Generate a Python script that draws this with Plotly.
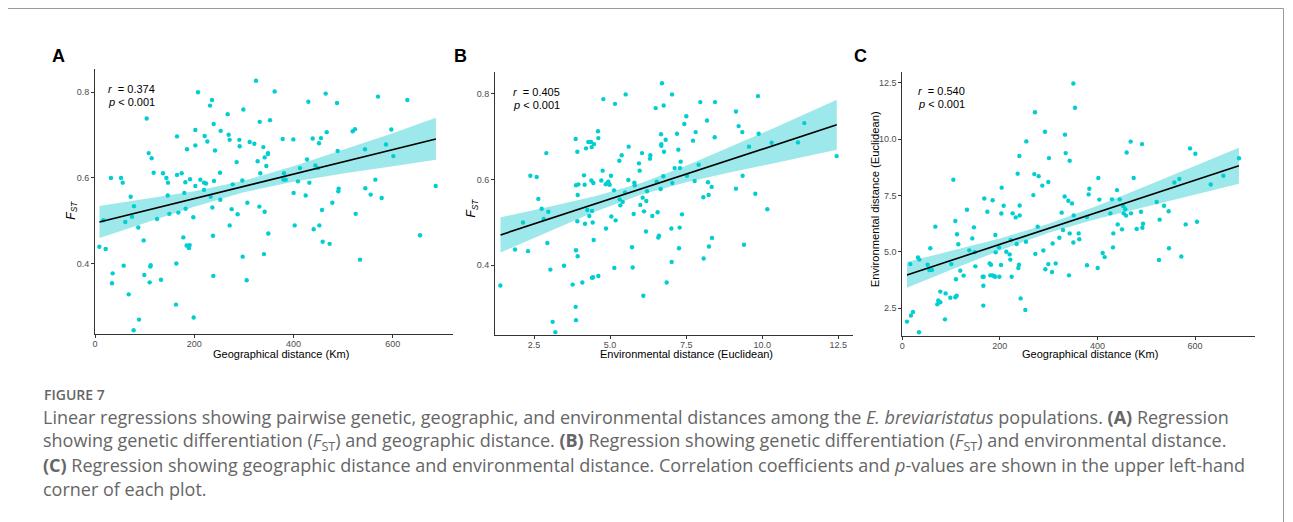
import plotly.graph_objects as go

# ---------------- data ----------------
# Panel A: geographic distance (Km) vs FST
a_x = [8.7, 16.8, 21.5, 32.2, 35.6, 34.3, 52.4, 55.8, 57.8, 61.1, 67.9, 71.9, 74.6, 78.6, 77.9, 87.3, 88.7, 98.1, 99.4, 104.1,
       108.2, 110.2, 111.5, 112.2, 114.2, 118.2, 125.0, 133.0, 137.0, 143.8, 146.5, 147.1, 149.8, 163.2, 163.9, 165.3, 165.3, 168.0, 174.7, 178.0,
       180.0, 182.1, 182.7, 185.4, 184.7, 188.1, 189.4, 190.8, 191.5, 198.2, 198.9, 202.2, 202.2, 202.2, 207.6, 212.3, 219.7, 219.7, 221.0, 223.7,
       226.4, 231.8, 233.1, 235.8, 236.5, 237.8, 238.5, 239.2, 239.8, 241.9, 251.9, 252.6, 253.3, 267.4, 269.4, 271.4, 271.4, 275.4, 277.5, 285.5,
       287.5, 290.9, 291.6, 296.9, 297.6, 299.0, 305.7, 307.0, 311.7, 321.1, 324.5, 327.8, 331.2, 331.9, 333.2, 339.2, 340.5, 341.9, 341.9, 345.3,
       348.6, 348.6, 349.3, 352.7, 362.1, 378.2, 379.6, 380.9, 384.3, 399.7, 400.3, 402.4, 409.1, 413.1, 424.6, 427.3, 430.0, 432.0, 438.7, 440.7,
       444.1, 449.5, 451.5, 452.1, 455.5, 457.5, 458.8, 464.9, 466.9, 472.9, 478.3, 487.7, 489.0, 490.4, 491.1, 519.3, 524.0, 525.4, 534.1, 544.2,
       544.8, 555.6, 565.0, 570.4, 577.7, 586.5, 597.2, 601.3, 629.5, 655.0, 686.6]
a_y = [0.439, 0.501, 0.434, 0.600, 0.377, 0.354, 0.600, 0.589, 0.395, 0.497, 0.328, 0.556, 0.509, 0.534, 0.244, 0.484, 0.269, 0.454, 0.373, 0.739,
       0.658, 0.356, 0.393, 0.396, 0.646, 0.612, 0.504, 0.362, 0.611, 0.600, 0.559, 0.589, 0.516, 0.304, 0.400, 0.697, 0.607, 0.519, 0.611, 0.461,
       0.565, 0.590, 0.528, 0.667, 0.442, 0.441, 0.436, 0.443, 0.597, 0.508, 0.274, 0.712, 0.581, 0.676, 0.800, 0.596, 0.589, 0.572, 0.698, 0.587,
       0.685, 0.769, 0.556, 0.782, 0.531, 0.465, 0.371, 0.726, 0.593, 0.664, 0.612, 0.549, 0.710, 0.749, 0.701, 0.689, 0.489, 0.527, 0.585, 0.637,
       0.515, 0.689, 0.674, 0.594, 0.416, 0.760, 0.361, 0.542, 0.684, 0.680, 0.827, 0.639, 0.533, 0.731, 0.611, 0.672, 0.422, 0.648, 0.521, 0.628,
       0.658, 0.656, 0.470, 0.735, 0.802, 0.691, 0.596, 0.611, 0.596, 0.690, 0.565, 0.489, 0.592, 0.623, 0.559, 0.643, 0.778, 0.589, 0.692, 0.480,
       0.629, 0.623, 0.681, 0.489, 0.693, 0.525, 0.451, 0.797, 0.707, 0.446, 0.542, 0.775, 0.663, 0.569, 0.575, 0.709, 0.714, 0.516, 0.409, 0.667,
       0.576, 0.561, 0.596, 0.790, 0.553, 0.678, 0.713, 0.651, 0.782, 0.466, 0.581]
a_fit_x = [9, 100, 200, 300, 400, 500, 600, 687]
a_fit_y = [0.497, 0.523, 0.551, 0.580, 0.609, 0.638, 0.666, 0.691]
a_lo = [0.4596, 0.4954, 0.5329, 0.5665, 0.5909, 0.6104, 0.6274, 0.6425]
a_hi = [0.5344, 0.5506, 0.5691, 0.5935, 0.6271, 0.6656, 0.7046, 0.7405]

# Panel B: environmental distance (Euclidean) vs FST
b_x = [1.394, 1.876, 2.139, 2.303, 2.380, 2.588, 2.642, 2.752, 2.818, 2.905, 2.938, 2.971, 3.037, 3.113, 3.201, 3.486, 3.771, 3.869, 3.869, 3.880,
       3.880, 3.880, 3.924, 3.924, 3.935, 3.935, 3.957, 4.088, 4.143, 4.165, 4.176, 4.209, 4.252, 4.285, 4.318, 4.373, 4.384, 4.395, 4.406, 4.406,
       4.428, 4.439, 4.450, 4.461, 4.472, 4.603, 4.614, 4.614, 4.712, 4.756, 4.778, 4.855, 4.866, 4.888, 4.942, 4.953, 4.986, 5.030, 5.041, 5.129,
       5.140, 5.162, 5.183, 5.305, 5.315, 5.337, 5.381, 5.414, 5.490, 5.512, 5.600, 5.611, 5.720, 5.742, 5.775, 5.797, 5.808, 5.950, 5.972, 5.994,
       6.049, 6.071, 6.093, 6.115, 6.180, 6.191, 6.213, 6.312, 6.323, 6.388, 6.498, 6.531, 6.563, 6.585, 6.607, 6.662, 6.673, 6.684, 6.684, 6.706,
       6.750, 6.761, 6.772, 6.827, 6.859, 7.013, 7.024, 7.035, 7.046, 7.122, 7.199, 7.243, 7.265, 7.287, 7.297, 7.319, 7.363, 7.440, 7.505, 7.527,
       7.724, 7.779, 7.812, 7.911, 7.965, 8.064, 8.075, 8.184, 8.217, 8.239, 8.250, 8.338, 8.349, 8.437, 8.448, 9.137, 9.137, 9.225, 9.345, 9.356,
       9.400, 9.565, 9.773, 9.860, 9.882, 10.167, 10.309, 11.175, 11.383, 12.445]
b_y = [0.353, 0.437, 0.500, 0.433, 0.609, 0.606, 0.555, 0.532, 0.508, 0.662, 0.452, 0.525, 0.390, 0.268, 0.244, 0.399, 0.355, 0.695, 0.303, 0.435,
       0.272, 0.587, 0.665, 0.503, 0.564, 0.421, 0.589, 0.360, 0.610, 0.588, 0.497, 0.673, 0.529, 0.688, 0.515, 0.688, 0.598, 0.676, 0.527, 0.371,
       0.500, 0.372, 0.592, 0.459, 0.683, 0.713, 0.697, 0.375, 0.598, 0.621, 0.788, 0.589, 0.486, 0.591, 0.595, 0.591, 0.588, 0.609, 0.514, 0.575,
       0.394, 0.777, 0.505, 0.644, 0.554, 0.540, 0.657, 0.548, 0.570, 0.799, 0.599, 0.677, 0.442, 0.395, 0.520, 0.593, 0.587, 0.638, 0.621, 0.541,
       0.662, 0.558, 0.329, 0.526, 0.479, 0.550, 0.573, 0.649, 0.657, 0.515, 0.767, 0.595, 0.524, 0.465, 0.469, 0.578, 0.706, 0.683, 0.679, 0.825,
       0.608, 0.773, 0.665, 0.693, 0.360, 0.486, 0.408, 0.799, 0.592, 0.627, 0.707, 0.670, 0.440, 0.488, 0.627, 0.642, 0.519, 0.730, 0.748, 0.609,
       0.691, 0.597, 0.711, 0.635, 0.781, 0.559, 0.416, 0.738, 0.594, 0.564, 0.444, 0.583, 0.464, 0.699, 0.781, 0.759, 0.579, 0.725, 0.711, 0.609,
       0.448, 0.677, 0.567, 0.795, 0.707, 0.531, 0.686, 0.687, 0.732, 0.655]
b_fit_x = [1.4, 3.0, 4.5, 6.0, 7.5, 9.0, 10.5, 12.45]
b_fit_y = [0.471, 0.508, 0.543, 0.578, 0.613, 0.648, 0.682, 0.728]
b_lo = [0.4298, 0.4795, 0.5249, 0.5645, 0.5937, 0.6180, 0.6399, 0.6695]
b_hi = [0.5122, 0.5365, 0.5611, 0.5915, 0.6323, 0.6780, 0.7241, 0.7865]

# Panel C: geographic distance (Km) vs environmental distance
c_x = [9.6, 16.4, 17.8, 21.9, 32.1, 34.9, 34.2, 51.9, 55.4, 57.4, 60.8, 67.7, 71.8, 73.8, 77.9, 77.9, 88.8, 87.5, 98.4, 100.5,
       104.6, 108.7, 108.7, 110.0, 111.4, 112.1, 114.8, 118.9, 125.7, 132.6, 137.4, 143.5, 146.9, 148.3, 149.7, 164.7, 166.1, 166.8, 166.1, 168.1,
       174.3, 179.1, 180.4, 181.8, 184.5, 185.2, 188.0, 190.0, 190.7, 191.4, 198.2, 198.9, 202.3, 203.7, 203.0, 207.8, 213.2, 220.1, 221.4, 222.1,
       224.2, 226.2, 232.4, 234.4, 236.5, 237.8, 239.2, 239.9, 240.6, 240.6, 242.6, 252.2, 253.5, 254.2, 268.6, 270.6, 272.0, 272.7, 277.5, 279.5,
       287.0, 289.1, 292.5, 293.2, 299.3, 299.3, 300.7, 306.9, 308.2, 314.4, 321.9, 326.7, 329.4, 333.5, 332.8, 334.9, 340.3, 341.7, 343.1, 343.1,
       347.9, 350.6, 350.6, 351.3, 354.0, 361.5, 362.9, 378.6, 378.6, 382.0, 383.4, 400.5, 401.8, 403.9, 410.7, 414.8, 426.5, 429.9, 431.9, 432.6,
       440.1, 441.5, 445.6, 450.4, 453.1, 453.8, 457.2, 458.6, 459.9, 468.1, 468.8, 474.3, 480.4, 489.3, 491.4, 492.1, 493.4, 521.4, 526.2, 527.6,
       536.5, 546.0, 546.7, 557.7, 567.9, 572.0, 580.9, 589.8, 600.7, 604.1, 632.2, 658.1, 690.2]
c_y = [1.91, 4.46, 2.18, 2.34, 4.75, 4.66, 1.44, 4.43, 4.20, 5.16, 4.20, 6.12, 2.68, 2.85, 3.24, 2.77, 3.16, 2.01, 2.97, 4.46,
       8.20, 6.37, 2.99, 3.79, 3.06, 5.78, 5.34, 4.17, 3.95, 6.87, 5.07, 5.60, 6.09, 4.99, 4.36, 3.90, 3.50, 3.90, 2.62, 7.37,
       6.78, 4.49, 3.96, 4.43, 3.96, 7.29, 3.93, 3.90, 5.75, 4.98, 5.20, 3.90, 4.42, 7.85, 6.70, 7.05, 5.01, 4.89, 4.66, 5.53,
       3.90, 6.71, 6.53, 5.35, 8.47, 4.29, 4.43, 9.25, 6.62, 7.06, 2.94, 2.43, 5.45, 9.90, 7.52, 8.45, 11.19, 4.91, 6.12, 8.36,
       7.94, 5.06, 10.33, 4.23, 4.46, 8.10, 9.16, 4.11, 5.37, 4.49, 5.63, 6.74, 5.97, 10.20, 7.46, 9.38, 7.27, 3.96, 5.82, 9.04,
       7.15, 12.47, 5.42, 6.62, 11.39, 5.82, 5.56, 4.41, 6.55, 7.55, 7.80, 4.29, 8.28, 7.32, 4.95, 4.77, 6.71, 7.33, 5.20, 5.82,
       7.74, 6.22, 7.33, 6.00, 7.03, 6.71, 6.89, 6.61, 9.41, 9.89, 6.71, 8.28, 6.02, 6.78, 9.78, 6.07, 6.25, 7.21, 4.64, 6.43,
       7.05, 6.80, 5.16, 8.08, 8.23, 4.80, 6.22, 9.59, 9.35, 6.34, 7.99, 8.38, 9.15]
c_fit_x = [9.6, 100, 200, 300, 400, 500, 600, 690]
c_fit_y = [3.98, 4.62, 5.33, 6.05, 6.76, 7.47, 8.18, 8.82]
c_lo = [3.407, 4.204, 5.066, 5.849, 6.469, 7.020, 7.553, 8.027]
c_hi = [4.553, 5.036, 5.594, 6.251, 7.051, 7.920, 8.807, 9.613]

# tick labels
a_xticks = [0, 200, 400, 600]
fst_ticks = [0.4, 0.6, 0.8]
fst_ticktext = ["0.4", "0.6", "0.8"]
b_xticks = [2.5, 5.0, 7.5, 10.0, 12.5]
b_xticktext = ["2.5", "5.0", "7.5", "10.0", "12.5"]
c_xticks = [0, 200, 400, 600]
c_yticks = [2.5, 5.0, 7.5, 10.0, 12.5]
c_yticktext = ["2.5", "5.0", "7.5", "10.0", "12.5"]

stats = [("0.374", "0.001"), ("0.405", "0.001"), ("0.540", "0.001")]

# ---------------- figure ----------------
W, H = 1293, 522
OFF = 8  # page body margin: shift everything so it lands where the reference has it
def X(px):
    return (px - OFF) / W
def Y(py):
    return 1 - (py - OFF) / H

PT = "#00CED1"
BAND = "#9DE8EA"
FONT = "Arial, Liberation Sans, sans-serif"

fig = go.Figure()

panels = [
    (a_x, a_y, a_fit_x, a_fit_y, a_lo, a_hi, "x", "y"),
    (b_x, b_y, b_fit_x, b_fit_y, b_lo, b_hi, "x2", "y2"),
    (c_x, c_y, c_fit_x, c_fit_y, c_lo, c_hi, "x3", "y3"),
]
for px_, py_, fx, fy, lo, hi, xa, ya in panels:
    fig.add_trace(go.Scatter(x=fx + fx[::-1], y=hi + lo[::-1], fill="toself", fillcolor=BAND,
                             line=dict(width=0), mode="lines", hoverinfo="skip", showlegend=False,
                             xaxis=xa, yaxis=ya))
    fig.add_trace(go.Scatter(x=px_, y=py_, mode="markers", marker=dict(color=PT, size=4.4),
                             showlegend=False, xaxis=xa, yaxis=ya))
    fig.add_trace(go.Scatter(x=fx, y=fy, mode="lines", line=dict(color="black", width=1.6),
                             showlegend=False, xaxis=xa, yaxis=ya))

axis_common = dict(showline=True, linecolor="#333333", linewidth=1, ticks="outside", ticklen=3,
                   tickcolor="#333333", tickwidth=1, showgrid=False, zeroline=False,
                   tickfont=dict(family=FONT, size=9, color="#4D4D4D"), automargin=False)
xcommon = dict(axis_common, ticklabelstandoff=-2)

fig.update_layout(
    width=W, height=H, margin=dict(l=0, r=0, t=0, b=0),
    paper_bgcolor="white", plot_bgcolor="white",
    xaxis=dict(domain=[X(95), X(453)], range=[0, 721.5], tickvals=a_xticks, anchor="y", **xcommon),
    yaxis=dict(domain=[Y(334.3), Y(69)], range=[0.2346, 0.8545], tickvals=fst_ticks, ticktext=fst_ticktext,
               anchor="x", **axis_common),
    xaxis2=dict(domain=[X(495), X(853.3)], range=[1.218, 12.993], tickvals=b_xticks, ticktext=b_xticktext,
                anchor="y2", **xcommon),
    yaxis2=dict(domain=[Y(334.7), Y(71.7)], range=[0.238, 0.852], tickvals=fst_ticks, ticktext=fst_ticktext,
                anchor="x2", **axis_common),
    xaxis3=dict(domain=[X(902.3), X(1255.3)], range=[0, 723.6], tickvals=c_xticks, anchor="y3", **xcommon),
    yaxis3=dict(domain=[Y(336), Y(71.7)], range=[1.272, 12.99], tickvals=c_yticks, ticktext=c_yticktext,
                anchor="x3", **axis_common),
)

ann = []
def A(x, y, text, size, color="black", xanchor="center", yanchor="middle", angle=0, family=FONT, weight=None):
    f = dict(family=family, size=size, color=color)
    if weight:
        f["weight"] = weight
    ann.append(dict(x=X(x), y=Y(y), xref="paper", yref="paper", text=text, showarrow=False,
                    xanchor=xanchor, yanchor=yanchor, textangle=angle, font=f))

# panel letters
for lx, lt in [(58.8, "A"), (460.7, "B"), (860.7, "C")]:
    A(lx, 56.3, "<b>%s</b>" % lt, 18)

# stats
for (sx, sy), (r, p) in zip([(105.7, 89.3), (511, 91.7), (916, 91)], stats):
    A(sx, sy, "<i>r</i>  = " + r, 11, xanchor="left")
    A(sx, sy + 13.2, "<i>p</i> &lt; " + p, 11, xanchor="left")

# axis titles
A(280.8, 353.5, "Geographical distance (Km)", 11)
A(686.7, 353.5, "Environmental distance (Euclidean)", 11)
A(1090, 353.5, "Geographical distance (Km)", 11)
A(71.7, 210, "<i>F<sub>ST</sub></i>", 12, angle=-90)
A(472.3, 208.3, "<i>F<sub>ST</sub></i>", 12, angle=-90)
A(875, 199.3, "Environmental distance (Euclidean)", 11.2, angle=-90)

# caption
CAP = "Open Sans, sans-serif"
CAPC = "#666666"
A(41.7, 394, "FIGURE 7", 14, color=CAPC, xanchor="left", family=CAP, weight=600)
lines = [
    "Linear regressions showing pairwise genetic, geographic, and environmental distances among the <i>E. breviaristatus</i> populations. <b>(A)</b> Regression",
    "showing genetic differentiation (<i>F</i><sub>ST</sub>) and geographic distance. <b>(B)</b> Regression showing genetic differentiation (<i>F</i><sub>ST</sub>) and environmental distance.",
    "<b>(C)</b> Regression showing geographic distance and environmental distance. Correlation coefficients and <i>p</i>-values are shown in the upper left-hand",
    "corner of each plot.",
]
for i, t in enumerate(lines):
    A(41, 417 + 24 * i, t, 18, color=CAPC, xanchor="left", family=CAP)

fig.update_layout(annotations=ann)

# frame around figure
frame = dict(type="line", xref="paper", yref="paper", line=dict(color="#9A9A9A", width=1))
fig.add_shape(x0=X(7.5), x1=X(7.5), y0=Y(8.5), y1=Y(540), **frame)
fig.add_shape(x0=X(7.5), x1=X(1283.5), y0=Y(8.5), y1=Y(8.5), **frame)
fig.add_shape(x0=X(1283.5), x1=X(1283.5), y0=Y(8.5), y1=Y(540), **frame)

fig.write_html("out.html")
